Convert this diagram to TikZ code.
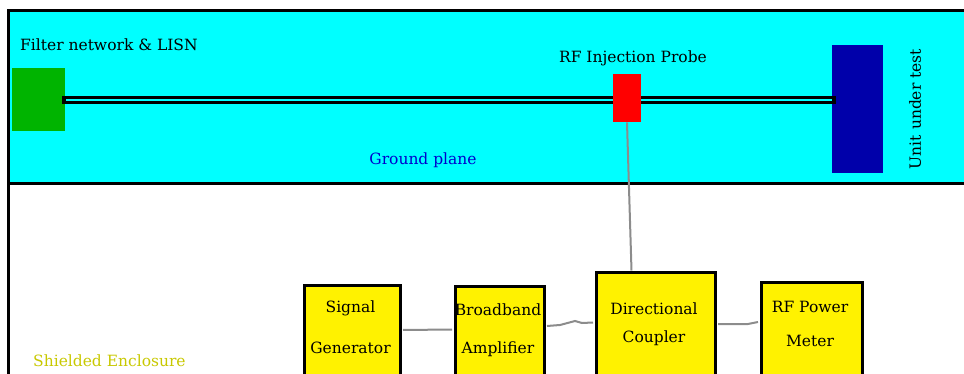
\documentclass[tikz,border=0pt]{standalone}
\usepackage{fontspec}
\setmainfont{DejaVu Serif}
\usetikzlibrary{calc}
\definecolor{gcyan}{HTML}{00FFFF}
\definecolor{lisngreen}{HTML}{00B400}
\definecolor{uutblue}{HTML}{0000AA}
\definecolor{wiregray}{HTML}{8C8C8C}
\definecolor{gptext}{HTML}{0000CC}
\definecolor{seyellow}{HTML}{C8C800}
\begin{document}
\begin{tikzpicture}[x=1pt,y=-1pt,
  box/.style={draw=black, line width=3pt, fill=yellow, inner sep=0pt, anchor=north west},
  part/.style={inner sep=0pt, anchor=north west},
  wire/.style={draw=wiregray, line width=2pt},
  lbl/.style={font=\fontsize{15.5}{18}\selectfont, inner sep=0pt, anchor=base}]
\useasboundingbox (0,0) rectangle (964,374);
\clip (0,0) rectangle (964,374);
% ground plane and enclosure
\fill[gcyan] (8,11) rectangle (970,184);
\draw[line width=3pt] (8,400) -- (8,11) -- (970,11);
\draw[line width=3pt] (8,184) -- (970,184);
% components on ground plane
\node[part, fill=lisngreen, minimum width=53pt, minimum height=63pt] (lisn) at (12,68) {};
\node[part, fill=uutblue, draw=blue!70!black, line width=0.6pt, minimum width=50pt, minimum height=127pt] (uut) at (832,45) {};
\coordinate (cl) at ($(lisn.east)+(-3,0)$);
\coordinate (cr) at (836,100);
\draw[line width=8pt] (cl |- cr) -- (cr);
\draw[gcyan, line width=2.5pt] ($(cl |- cr)+(4,0)$) -- ($(cr)+(-4,0)$);
\node[part, fill=red, minimum width=28pt, minimum height=48pt] (probe) at (613,74) {};
% labels on ground plane
\node[lbl, anchor=base west] (lisnlbl) at (20,51) {Filter network \& LISN};
\node[lbl] (probelbl) at (633,63) {RF Injection Probe};
\node[lbl, text=gptext] (gplbl) at (423,165) {Ground plane};
\node[lbl, rotate=90, anchor=center] (uutlbl) at (915,109) {Unit under test};
% instrument boxes
\node[box, minimum width=96pt, minimum height=130pt] (sg) at (302.5,283.5) {};
\node[box, minimum width=89pt, minimum height=130pt] (ba) at (453.5,284.5) {};
\node[box, minimum width=119pt, minimum height=130pt] (dc) at (594.5,270.5) {};
\node[box, minimum width=101pt, minimum height=130pt] (pm) at (759.5,280.5) {};
\node[lbl] (sg1) at (350.5,312) {Signal};
\node[lbl] (sg2) at (350.5,353) {Generator};
\node[lbl] (ba1) at (498,315) {Broadband};
\node[lbl] (ba2) at (498,353) {Amplifier};
\node[lbl] (dc1) at (654,314) {Directional};
\node[lbl] (dc2) at (654,342) {Coupler};
\node[lbl] (pm1) at (810,312) {RF Power};
\node[lbl] (pm2) at (810,346) {Meter};
% wires
\draw[wire] ($(probe.south west)+(14,0)$) -- ($(dc.north west)+(37,0)$);
\draw[wire] ($(sg.north east)+(1.5,46.5)$) -- ($(ba.north west)+(-1.5,45)$);
\draw[wire] ($(ba.north east)+(1.5,41.5)$) -- (560,325) -- (575,321) -- (582,323) -- ($(dc.north west)+(-1.5,52)$);
\draw[wire] ($(dc.north east)+(1.5,53.5)$) -- (748,324) -- ($(pm.north west)+(-1.5,41.5)$);
% enclosure label
\node[lbl, anchor=base west, text=seyellow] (selbl) at (33,366) {Shielded Enclosure};
\end{tikzpicture}
\end{document}
